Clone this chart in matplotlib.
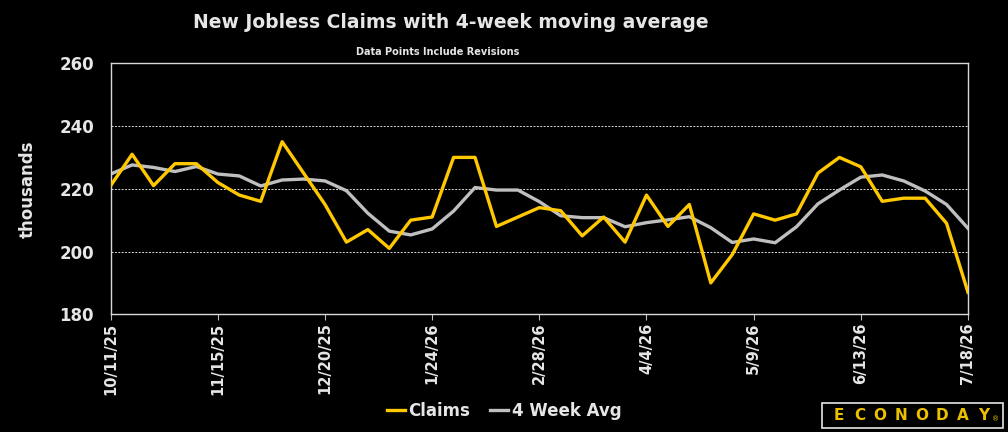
import matplotlib
matplotlib.use("Agg")
import matplotlib.pyplot as plt
from matplotlib.patches import Rectangle

dates = ["10/11/25","10/18/25","10/25/25","11/1/25","11/8/25","11/15/25","11/22/25","11/29/25",
         "12/6/25","12/13/25","12/20/25","12/27/25","1/3/26","1/10/26","1/17/26","1/24/26",
         "1/31/26","2/7/26","2/14/26","2/21/26","2/28/26","3/7/26","3/14/26","3/21/26",
         "3/28/26","4/4/26","4/11/26","4/18/26","4/25/26","5/2/26","5/9/26","5/16/26",
         "5/23/26","5/30/26","6/6/26","6/13/26","6/20/26","6/27/26","7/4/26","7/11/26","7/18/26"]
claims = [221, 231, 221, 228, 228, 222, 218, 216, 235, 225, 215, 203, 207, 201, 210, 211,
          230, 230, 208, 211, 214, 213, 205, 211, 203, 218, 208, 215, 190, 199, 212, 210,
          212, 225, 230, 227, 216, 217, 217, 209, 187]
avg4 = [224.7, 227.6, 226.8, 225.5, 227.1, 224.7, 224.1, 220.9, 222.8, 223.1, 222.5, 219.4,
        212.2, 206.5, 205.3, 207.2, 212.9, 220.4, 219.6, 219.6, 215.9, 211.4, 210.8, 210.8,
        207.9, 209.2, 210.1, 211.1, 207.6, 202.9, 204.0, 202.8, 207.9, 215.2, 219.6, 223.7,
        224.4, 222.5, 219.3, 215.0, 207.4]
yticks = [180, 200, 220, 240, 260]
logo = "ECONODAY"

txt = "#E6E6E6"
fig = plt.figure(figsize=(10.08, 4.32), dpi=100, facecolor="black")
ax = fig.add_axes([0.1098, 0.2725, 0.8505, 0.581], facecolor="black")

x = list(range(len(dates)))
ax.plot(x, claims, color="#FFC800", lw=2.4, label="Claims", zorder=3)
ax.plot(x, avg4, color="#BFBFBF", lw=2.4, label="4 Week Avg", zorder=2)

ax.set_xlim(0, len(dates) - 1)
ax.set_ylim(180, 260)
ax.set_yticks(yticks)
ax.set_yticklabels([str(v) for v in yticks], color=txt, fontsize=12, fontweight="bold")
ax.tick_params(axis="y", length=0, pad=12)
ax.set_xticks(x[::5])
ax.set_xticklabels(dates[::5], rotation=90, color=txt, fontsize=10.5, fontweight="bold")
ax.tick_params(axis="x", length=4, color="#BFBFBF", pad=2)
for v in [200, 220, 240]:
    ax.axhline(v, color="#D9D9D9", lw=0.7, ls=(0, (2, 1.5)), zorder=1)
for s in ax.spines.values():
    s.set_color("#D9D9D9")
    s.set_linewidth(1.0)
ax.set_ylabel("thousands", color=txt, fontsize=12, fontweight="bold", labelpad=16)

fig.text(0.447, 0.947, "New Jobless Claims with 4-week moving average", ha="center", va="center",
         color=txt, fontsize=13.5, fontweight="bold")
fig.text(0.434, 0.880, "Data Points Include Revisions", ha="center", va="center",
         color=txt, fontsize=7, fontweight="bold")

leg = fig.legend(loc="center", bbox_to_anchor=(0.5, 0.048), ncol=2, frameon=False,
                 fontsize=12, handlelength=1.1, handletextpad=0.2, columnspacing=1.2)
for t in leg.get_texts():
    t.set_color(txt)
    t.set_fontweight("bold")

fig.patches.append(Rectangle((0.815, 0.010), 0.180, 0.058, transform=fig.transFigure,
                             facecolor="black", edgecolor="#E6E6E6", lw=1.2))
for i, ch in enumerate(logo):
    fig.text(0.832 + i * 0.0205, 0.039, ch, ha="center", va="center", color="#EBC000",
             fontsize=11, fontweight="bold", family="DejaVu Sans")
fig.text(0.988, 0.030, "®", ha="center", va="center", color="#EBC000", fontsize=5)

fig.savefig("out.png", dpi=100, facecolor="black")
